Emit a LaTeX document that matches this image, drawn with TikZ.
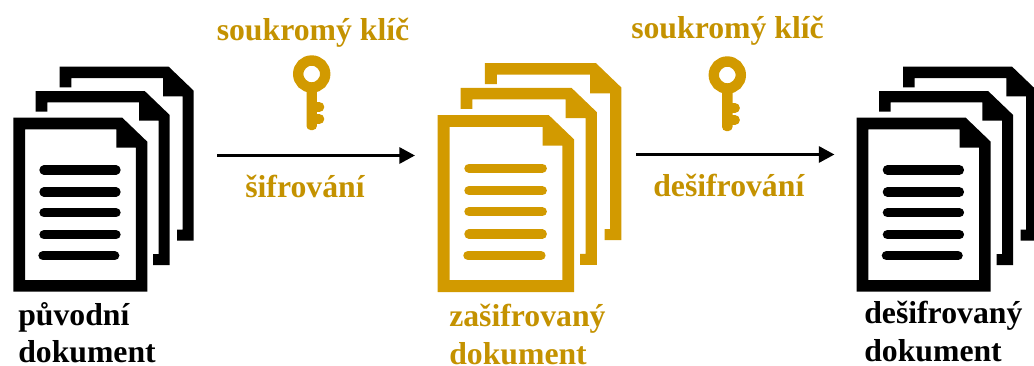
\documentclass[tikz,border=0pt]{standalone}
\usepackage{fontspec}
\setmainfont{Liberation Serif}
\usetikzlibrary{arrows.meta}
\definecolor{gold}{HTML}{D29A00}
\definecolor{goldtext}{HTML}{C49200}
\tikzset{
  x=0.75pt,y=-0.75pt,
  lab/.style={font=\bfseries\fontsize{23.8}{28}\selectfont,inner sep=0pt,anchor=base west},
  goldlab/.style={lab,text=goldtext},
  flow/.style={draw=black,line width=2.5pt,-{Triangle[length=11.8pt,width=12pt]}},
}
\newcommand{\sheetback}[3]{% x,y offset, colour
  \fill[#3,shift={(#1,#2)}] (0,0) -- (109,0) -- (134,24) -- (134,174) -- (117.5,174) -- (117.5,163) -- (123,163) -- (123,29.7) -- (103.3,29.7) -- (103.3,11.4) -- (11.6,11.4) -- (11.6,20.7) -- (0,20.7) -- cycle;
}
\newcommand{\docstack}[4]{% x,y,colour,scale
  \begin{scope}[shift={(#1,#2)},xscale=#4,yscale=#4]
  \sheetback{46.4}{-51}{#3}
  \sheetback{22.4}{-26.7}{#3}
  \fill[#3,even odd rule] (0,0) -- (109,0) -- (134,24) -- (134,174) -- (0,174) -- cycle
     (11.7,11.7) -- (103,11.7) -- (103,30) -- (122.5,30) -- (122.5,162.3) -- (11.7,162.3) -- cycle;
  \foreach \yy/\xa/\xb in {52.3/30.7/102.7,74.3/30.7/102.7,95/30.7/102.7,117/30.7/102.7,138/29.7/101.4}
    \draw[#3,line width=7pt,line cap=round] (\xa,\yy) -- (\xb,\yy);
  \end{scope}
}
\newcommand{\keyicon}[2]{% x,y centre of bow
  \begin{scope}[shift={(#1,#2)}]
  \draw[gold,line width=7.8pt] (0,0) circle[radius=13.5];
  \fill[gold,rounded corners=3pt] (-5.2,14) rectangle (5.2,56);
  \fill[gold] (7.6,33) circle[radius=5];
  \fill[gold] (7.6,45) circle[radius=5];
  \fill[gold] (3,28) rectangle (7.6,38);
  \fill[gold] (3,40) rectangle (7.6,50);
  \end{scope}
}
\begin{document}
\begin{tikzpicture}
\useasboundingbox (0,0) rectangle (1034,365);
\begin{scope}
\clip (0,0) rectangle (1034,365);
\docstack{13.3}{117.7}{black}{1}
\docstack{437.7}{115}{gold}{1.018}
\docstack{856.7}{117.7}{black}{1}
\end{scope}
\keyicon{311.7}{74}
\keyicon{727.3}{75}
\coordinate (a1) at (217,155.5);
\coordinate (a2) at (415,155.5);
\coordinate (b1) at (636,154.5);
\coordinate (b2) at (834.5,154.5);
\draw[flow] (a1) -- (a2);
\draw[flow] (b1) -- (b2);
\node[goldlab] (k1) at (216.5,40) {soukromý klíč};
\node[goldlab] (k2) at (631,38.5) {soukromý klíč};
\node[goldlab] (s1) at (245,197) {šifrování};
\node[goldlab] (s2) at (653,196) {dešifrování};
\node[lab] (n1a) at (18,325) {původní};
\node[lab] (n1b) at (18,362.7) {dokument};
\node[goldlab] (n2a) at (449,326) {zašifrovaný};
\node[goldlab] (n2b) at (449,364) {dokument};
\node[lab] (n3a) at (864,323.5) {dešifrovaný};
\node[lab] (n3b) at (864,361.7) {dokument};
\end{tikzpicture}
\end{document}
